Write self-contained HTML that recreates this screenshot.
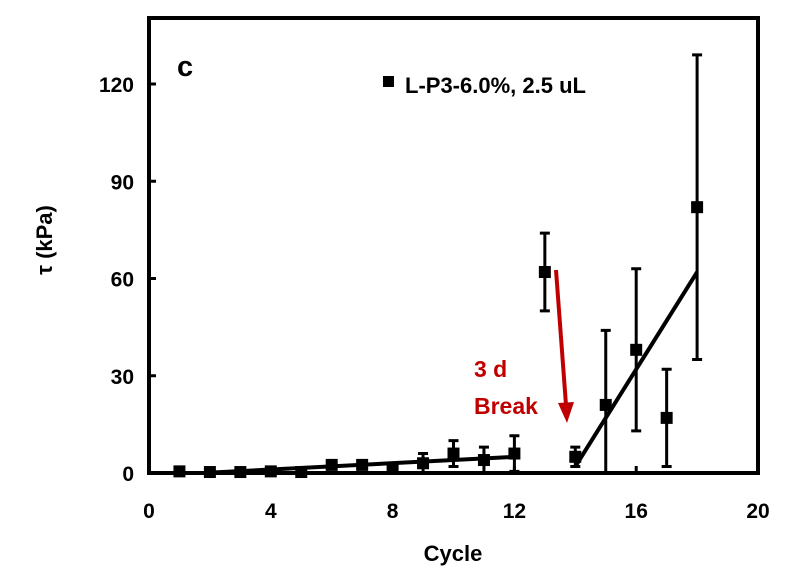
<!DOCTYPE html>
<html><head><meta charset="utf-8"><style>
body{margin:0;background:#fff}
svg{display:block;font-family:"Liberation Sans",sans-serif;font-weight:bold}
</style></head><body>
<svg id="chart" width="787" height="587" viewBox="0 0 787 587">
<rect x="149" y="18" width="609" height="455" fill="none" stroke="#000" stroke-width="4"/>
<g id="ticks"></g>
<g id="series"></g>
<text x="177" y="76" font-size="29">c</text>
<rect x="383" y="76" width="11" height="11" fill="#000"/>
<text x="405" y="93" font-size="22">L-P3-6.0%, 2.5 uL</text>
<text x="474" y="377" font-size="23" fill="#c00000">3 d</text>
<text x="474" y="414" font-size="23" fill="#c00000">Break</text>
<line x1="556" y1="270" x2="566" y2="405" stroke="#c00000" stroke-width="4"/>
<polygon points="558,403 574,402 567,423" fill="#c00000"/>
<text x="453" y="561" font-size="22" text-anchor="middle">Cycle</text>
<text transform="translate(52,240) rotate(-90)" font-size="22" text-anchor="middle">τ (kPa)</text>
</svg>
<script>
const cycles=[1,2,3,4,5,6,7,8,9,10,11,12,13,14,15,16,17,18];
const tau=[0.5,0.3,0.3,0.5,0.3,2.5,2.5,1.5,3,6,4,6,62,5,21,38,17,82];
const errUp=[0,0,0,1,0,1,1,0,3,4,4,5.5,12,3,23,25,15,47];
const errDn=[0,0,0,1,0,1,1,0,3,4,4,5.5,12,3,23,25,15,47];
const xTicks=[0,4,8,12,16,20];
const yTicks=[0,30,60,90,120];
const trend1=[[2,0.1],[12,5]];
const trend2=[[14,2],[18,62]];
const X=v=>149+v*(758-149)/20;
const Y=v=>473-v*(473-84)/120;
const NS="http://www.w3.org/2000/svg";
const tg=document.getElementById('ticks'),sg=document.getElementById('series');
function mk(tag,at,p){const e=document.createElementNS(NS,tag);for(const k in at)e.setAttribute(k,at[k]);p.appendChild(e);return e;}
xTicks.forEach(t=>{
 const l=mk('line',{x1:X(t),x2:X(t),y1:473,y2:466,stroke:'#000','stroke-width':3},tg);
 
 
 const s=mk('text',{x:X(t),y:518,'font-size':21,'text-anchor':'middle'},tg);s.textContent=t;
 
 
});
yTicks.forEach(t=>{
 const l=mk('line',{x1:149,x2:156,y1:Y(t),y2:Y(t),stroke:'#000','stroke-width':3},tg);
 
 
 const s=mk('text',{x:134,y:Y(t)+8,'font-size':21,'text-anchor':'end'},tg);s.textContent=t;
 
 
});
[trend1,trend2].forEach(tr=>{
 const l=mk('line',{x1:X(tr[0][0]),y1:Y(tr[0][1]),x2:X(tr[1][0]),y2:Y(tr[1][1]),stroke:'#000','stroke-width':4},sg);
 
 
});
cycles.forEach((c,i)=>{
 const x=X(c),top=tau[i]+errUp[i],bot=Math.max(0,tau[i]-errDn[i]);
 if(errUp[i]>0){
  const g=mk('path',{d:`M${x},${Y(top)}V${Y(bot)}M${x-5},${Y(top)}h10`+(tau[i]-errDn[i]>0?`M${x-5},${Y(bot)}h10`:''),stroke:'#000','stroke-width':3,fill:'none'},sg);
  
  
 }
 const m=mk('rect',{x:x-6,y:Y(tau[i])-6,width:12,height:12,fill:'#000'},sg);
 
 
});
</script>
</body></html>
